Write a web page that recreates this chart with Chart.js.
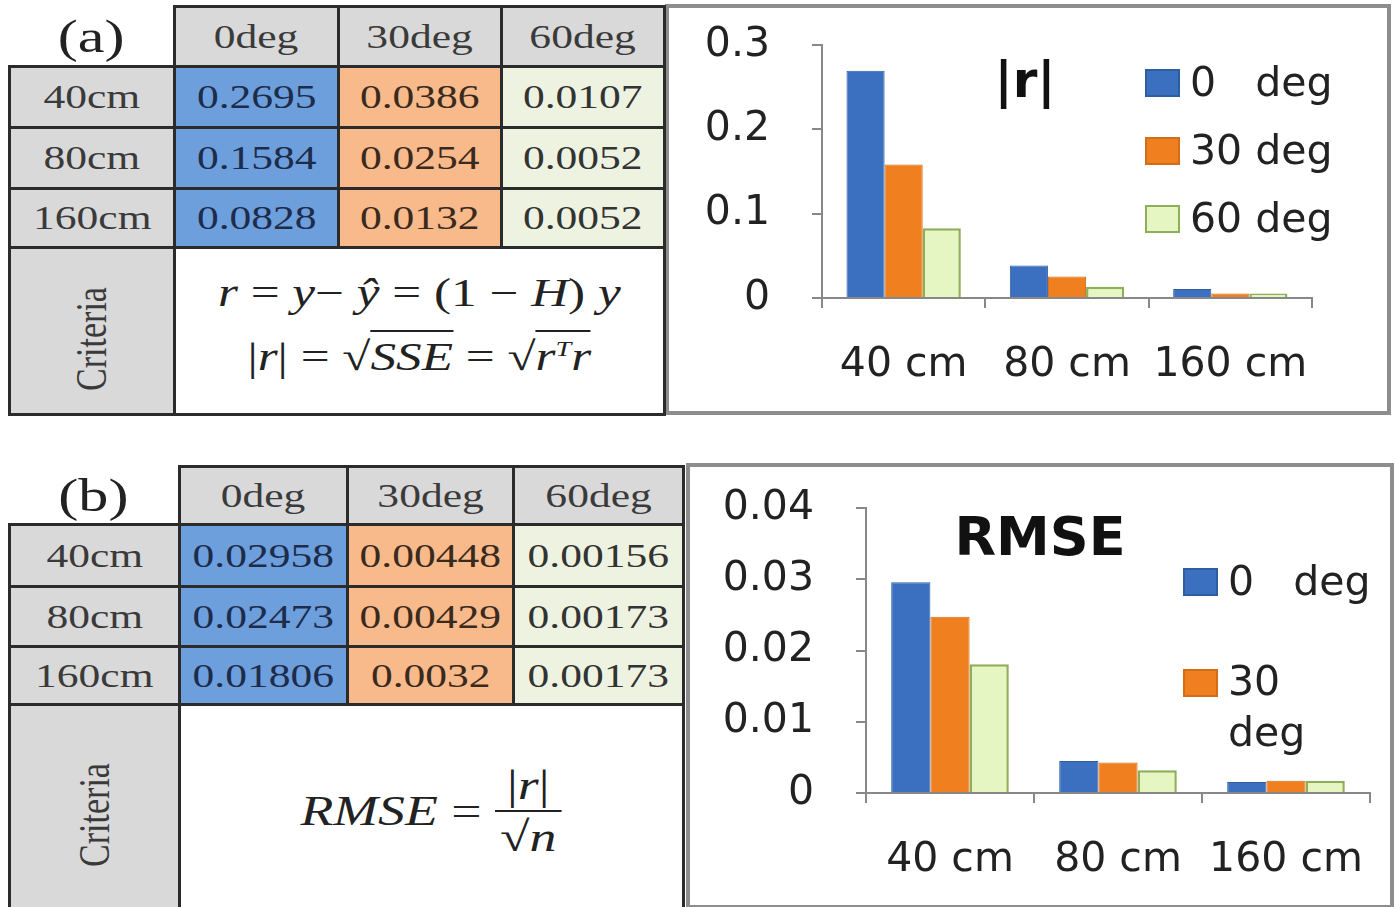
<!DOCTYPE html>
<html>
<head>
<meta charset="utf-8">
<script src="https://cdn.jsdelivr.net/npm/chart.js@4.4.1/dist/chart.umd.min.js"></script>
<style>
  body { margin: 0; width: 1396px; height: 907px; background: #fff; position: relative; overflow: hidden; font-family: 'Liberation Serif', serif; color: #333; }
  table.grid { position: absolute; border-collapse: collapse; table-layout: fixed; }
  table.grid td { border: 3px solid #2b2b2b; padding: 0; text-align: center; vertical-align: middle; font-size: 34px; overflow: hidden; }
  td.tag { border-top: none !important; border-left: none !important; background: #fff; font-size: 47px !important; color: #222; }
  td.hd { background: #d9d9d9; color: #3a3a3a; }
  td.c0 { background: #6e9fdd; color: #1c2c4a; }
  td.c1 { background: #f8b98b; color: #3a2a1e; }
  td.c2 { background: #eef3e1; color: #333; }
  td.fm { background: #fff; color: #222; position: relative; }
  .sx { display: inline-block; transform: scaleX(1.28); white-space: nowrap; }
  .crit { display: inline-block; transform: translateY(8px) rotate(-90deg) scaleY(1.28); white-space: nowrap; }
  .box { position: absolute; border: 4px solid #8d8d8d; box-sizing: border-box; background: #fff; }
  canvas { position: absolute; }
  .lg { position: absolute; font-family: 'DejaVu Sans', sans-serif; font-size: 41px; color: #222; white-space: pre; line-height: 1; }
  .sw { position: absolute; width: 35px; height: 28px; box-sizing: border-box; }
  .ttl { position: absolute; font-family: 'DejaVu Sans', sans-serif; font-weight: bold; color: #111; line-height: 1; transform: translate(-50%, -50%); }
  .f { position: absolute; left: 0; width: 100%; text-align: center; font-size: 40px; line-height: 1; }
  .f i { font-style: italic; }
  .ov { border-top: 2px solid #222; padding-top: 2px; }
</style>
</head>
<body>
<div class="box" style="left:665px;top:4px;width:726px;height:411px;"></div>
<div class="box" style="left:686px;top:463px;width:708px;height:446px;"></div>
<canvas id="chartR" width="712" height="400" style="left:673px;top:10px;"></canvas>
<canvas id="chartRmse" width="697" height="437" style="left:693px;top:468px;"></canvas>

<script>
// table header labels
const degLabels = ['0deg', '30deg', '60deg'];
const distLabels = ['40cm', '80cm', '160cm'];

// |r| table rows (0deg, 30deg, 60deg)
const r40 = [0.2695, 0.0386, 0.0107];
const r80 = [0.1584, 0.0254, 0.0052];
const r160 = [0.0828, 0.0132, 0.0052];

// RMSE table rows
const rmse40 = [0.02958, 0.00448, 0.00156];
const rmse80 = [0.02473, 0.00429, 0.00173];
const rmse160 = [0.01806, 0.0032, 0.00173];

// bar chart labels as printed on the figure
const chartGroups = ['40 cm', '80 cm', '160 cm'];
const seriesNames = ['0   deg', '30 deg', '60 deg'];

const fills = ['#3b70c1', '#f07f20', '#e5f6c2'];
const edges = ['#2f5e9f', '#d46d17', '#8fae5a'];

function makeTable(left, top, colW, rowH, tag, rows, formula) {
  const t = document.createElement('table');
  t.className = 'grid';
  t.style.left = left + 'px';
  t.style.top = top + 'px';
  t.style.width = colW.reduce((a, b) => a + b, 0) + 'px';
  let html = '<colgroup>' + colW.map(w => `<col style="width:${w}px">`).join('') + '</colgroup>';
  html += `<tr style="height:${rowH[0]}px"><td class="tag"><span class="sx">${tag}</span></td>` +
    degLabels.map(d => `<td class="hd"><span class="sx">${d}</span></td>`).join('') + '</tr>';
  rows.forEach((vals, i) => {
    html += `<tr style="height:${rowH[i + 1]}px"><td class="hd"><span class="sx">${distLabels[i]}</span></td>` +
      vals.map((v, j) => `<td class="c${j}"><span class="sx">${v}</span></td>`).join('') + '</tr>';
  });
  html += `<tr style="height:${rowH[4]}px"><td class="hd"><span class="crit">Criteria</span></td><td colspan="3" class="fm">${formula}</td></tr>`;
  t.innerHTML = html;
  document.body.appendChild(t);
}

makeTable(8, 5, [165, 164, 163, 163], [60, 61, 61, 59, 167], '(a)', [r40, r80, r160],
  `<div class="f" style="top:24px"><span class="sx"><i>r</i> = <i>y</i>&minus; <i>&#375;</i> = (1 &minus; <i>H</i>) <i>y</i></span></div>
   <div class="f" style="top:88px"><span class="sx">|<i>r</i>| = &radic;<span class="ov"><i>SSE</i></span> = &radic;<span class="ov"><i>r</i><sup style="font-size:22px"><i>T</i></sup><i>r</i></span></span></div>`);

makeTable(8, 465, [170, 168, 166, 170], [58, 62, 60, 58, 204], '(b)', [rmse40, rmse80, rmse160],
  `<div class="f" style="top:58px;font-size:42px"><span class="sx" style="display:inline-flex;align-items:center;">
     <i>RMSE</i>&nbsp;=&nbsp;<span style="display:inline-flex;flex-direction:column;align-items:center;">
       <span style="padding:0 6px 4px">|<i>r</i>|</span>
       <span style="border-top:2px solid #222;padding:4px 4px 0">&radic;<span class="ov"><i>n</i></span></span>
     </span></span></div>`);

function addLegend(items) {
  items.forEach(it => {
    const sw = document.createElement('div');
    sw.className = 'sw';
    sw.style.left = it.x + 'px';
    sw.style.top = (it.y - 14) + 'px';
    sw.style.background = fills[it.k];
    sw.style.border = '2px solid ' + edges[it.k];
    document.body.appendChild(sw);
  });
}

function addText(cls, txt, x, y, size) {
  const d = document.createElement('div');
  d.className = cls;
  d.textContent = txt;
  d.style.left = x + 'px';
  d.style.top = y + 'px';
  if (size) d.style.fontSize = size + 'px';
  document.body.appendChild(d);
}

function makeChart(id, rows, yMax, yStep, area) {
  return new Chart(document.getElementById(id), {
    type: 'bar',
    data: {
      labels: chartGroups,
      datasets: rows.map((d, i) => ({
        label: seriesNames[i],
        data: d,
        backgroundColor: fills[i],
        borderColor: edges[i],
        borderWidth: i === 2 ? 2.5 : 1,
        categoryPercentage: 0.7,
        barPercentage: 1
      }))
    },
    options: {
      responsive: false,
      animation: false,
      layout: { padding: { top: area.top, right: area.right, left: 0, bottom: 0 } },
      plugins: { legend: { display: false }, title: { display: false }, tooltip: { enabled: false } },
      scales: {
        x: {
          grid: { drawOnChartArea: false, tickLength: 10, color: '#888', lineWidth: 2 },
          border: { color: '#888', width: 2 },
          ticks: { padding: 33, color: '#222', maxRotation: 0, autoSkip: false, font: { family: 'DejaVu Sans', size: 41 } },
          afterFit: s => { s.height = area.bottom; s.paddingLeft = 0; s.paddingRight = 0; }
        },
        y: {
          min: 0,
          max: yMax,
          grid: { drawOnChartArea: false, tickLength: 10, color: '#888', lineWidth: 2 },
          border: { color: '#888', width: 2 },
          ticks: { stepSize: yStep, padding: 42, color: '#222', font: { family: 'DejaVu Sans', size: 41 } },
          afterFit: s => { s.width = area.left; s.paddingTop = 0; s.paddingBottom = 0; }
        }
      }
    }
  });
}

makeChart('chartR', [r40, r80, r160], 0.3, 0.1, { left: 149, top: 35, right: 73, bottom: 112 });
makeChart('chartRmse', [rmse40, rmse80, rmse160], 0.04, 0.01, { left: 173, top: 40, right: 20, bottom: 112 });

// titles
addText('ttl', '|r|', 1025, 80, 50);
addText('ttl', 'RMSE', 1040, 537, 54);

// legends
addLegend([{ x: 1145, y: 83, k: 0 }, { x: 1145, y: 151, k: 1 }, { x: 1145, y: 219, k: 2 }]);
addText('lg', seriesNames[0], 1190, 62);
addText('lg', seriesNames[1], 1190, 130);
addText('lg', seriesNames[2], 1190, 198);

addLegend([{ x: 1183, y: 582, k: 0 }, { x: 1183, y: 683, k: 1 }]);
addText('lg', seriesNames[0], 1228, 561);
addText('lg', '30', 1228, 661);
addText('lg', 'deg', 1228, 712);
</script>
</body>
</html>
